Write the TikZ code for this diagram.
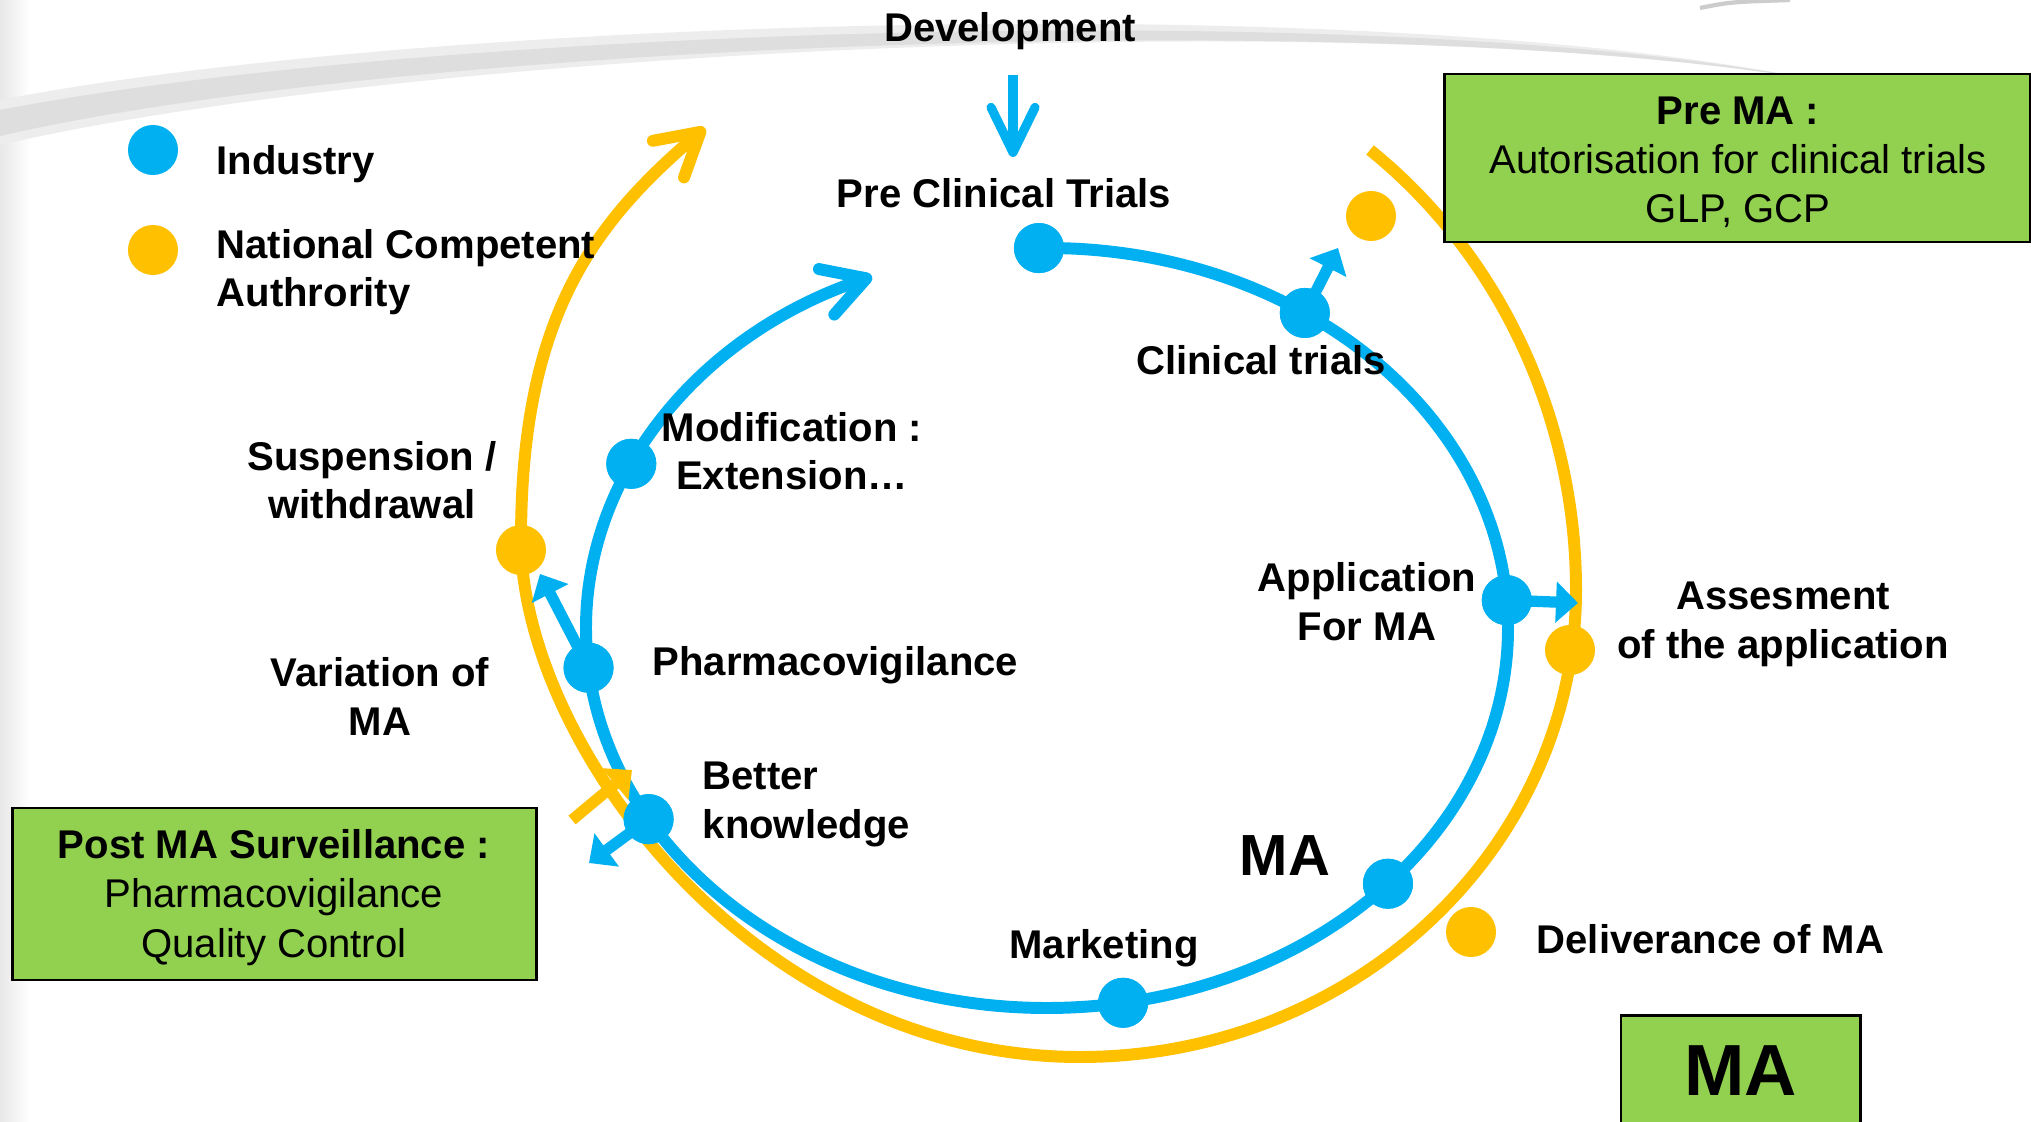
\documentclass[tikz,border=0pt]{standalone}
\usepackage{fontspec}
\setmainfont{Liberation Sans}
\usetikzlibrary{arrows.meta,calc}
\definecolor{cblue}{HTML}{00B0F0}
\definecolor{cyel}{HTML}{FFC000}
\definecolor{cgreen}{HTML}{92D050}
\newcommand\lblfont{\fontsize{11.4pt}{13.9pt}\selectfont\bfseries}
\newcommand\boxfont{\fontsize{11.4pt}{14pt}\selectfont}
\begin{document}
\begin{tikzpicture}[x=0.01cm, y=-0.01cm,
  bline/.style={draw=cblue, line width=3.4pt},
  yline/.style={draw=cyel, line width=3.4pt},
  bdot/.style={circle, fill=cblue, minimum size=0.5cm, inner sep=0pt},
  ydot/.style={circle, fill=cyel, minimum size=0.5cm, inner sep=0pt},
  barb/.style={-{Straight Barb[length=0.42cm, width=0.48cm, round]}},
  blk/.style={line width=3.2pt, -{Triangle[length=0.22cm, width=0.4cm]}},
  lbl/.style={font=\lblfont, inner sep=0pt, anchor=base, align=center},
  gbox/.style={draw=black, line width=0.8pt, fill=cgreen, inner sep=0pt},
  btxt/.style={font=\boxfont, inner sep=0pt, anchor=base, align=center}]
\clip (0,0) rectangle (2031,1122);
\fill[white] (0,0) rectangle (2031,1122);
% background decoration
\shade[left color=black!9, right color=white] (0,0) rectangle (30,1122);
\fill[black!7] (0,100) .. controls (400,22) and (1350,-14) .. (1815,80)
   .. controls (1350,2) and (400,52) .. (0,145) -- cycle;
\fill[black!13] (0,110) .. controls (400,32) and (1350,-6) .. (1805,78)
   .. controls (1350,6) and (400,44) .. (0,136) -- cycle;
\draw[black!20, line width=1.2pt] (1700,8) .. controls (1730,2) .. (1790,0);

% legend dots
\node[bdot] (legb) at (153,150) {};
\node[ydot] (legy) at (153,250) {};

% yellow (authority) path
\coordinate (ya) at (1370,150);
\coordinate (yb) at (1576,590);
\coordinate (yc) at (1080,1057);
\coordinate (yd) at (521,540);
\coordinate (ye) at (705,128);
\draw[yline, barb] (ya) .. controls (1500,255) and (1576,418) .. (yb)
  .. controls (1576,848) and (1354,1057) .. (yc)
  .. controls (750,1057) and (521,740) .. (yd)
  .. controls (521,320) and (591,225) .. (ye);

% blue (industry) cycle
\coordinate (bc) at (1047,628);
\node[bdot] (pc) at ($(bc)+(-91:461 and 380)$) {};
\node[bdot] (ct) at ($(bc)+(-56:461 and 380)$) {};
\node[bdot] (app) at ($(bc)+(-4.2:461 and 380)$) {};
\node[bdot] (ma) at ($(bc)+(42.3:461 and 380)$) {};
\node[bdot] (mkt) at ($(bc)+(80.5:461 and 380)$) {};
\node[bdot] (bk) at ($(bc)+(149.8:461 and 380)$) {};
\node[bdot] (pv) at ($(bc)+(174:461 and 380)$) {};
\node[bdot] (mod) at ($(bc)+(205.6:461 and 380)$) {};
\draw[bline, barb] (pc.center) arc[start angle=-91, end angle=247.7, x radius=461, y radius=380];

% small arrows
\coordinate (ctT) at (1338,248);
\coordinate (appT) at (1578,603);
\coordinate (pvT) at (540,574);
\coordinate (bkT) at (589,863);
\coordinate (yA) at (572,820);
\coordinate (yT) at (632,770);
\draw[blk, draw=cblue, fill=cblue] (ct.center) -- (ctT);
\draw[blk, draw=cblue, fill=cblue] (app.center) -- (appT);
\draw[blk, draw=cblue, fill=cblue] (pv.center) -- (pvT);
\draw[blk, draw=cblue, fill=cblue] (bk.center) -- (bkT);
\draw[blk, draw=cyel, fill=cyel] (yA) -- (yT);

% redraw dots on top
\foreach \n in {pc,ct,app,ma,mkt,bk,pv,mod} \fill[cblue] (\n) circle[radius=25];

% yellow dots
\node[ydot] (susp) at (521,550) {};
\node[ydot] (ass) at (1570,650) {};
\node[ydot] (auth) at (1371,216) {};
\node[ydot] (deliv) at (1471,932) {};

% development arrow
\node[lbl] (dev) at (1010,42) {Development};
\coordinate (devA) at (1013,75);
\coordinate (devB) at (1013,157);
\draw[draw=cblue, line width=2.6pt, -{Straight Barb[length=0.45cm, width=0.44cm, round]}] (devA) -- (devB);

% labels
\node[lbl, anchor=base west, align=left] (ind) at (216,175) {Industry};
\node[lbl, anchor=base west, align=left] (nca) at (216,307) {National Competent\\Authrority};
\node[lbl] (pctl) at (1004,208) {Pre Clinical Trials};
\node[lbl] (ctl) at (1261,375) {Clinical trials};
\node[lbl] (modl) at (792,490) {Modification :\\Extension…};
\node[lbl] (susl) at (372,519) {Suspension /\\withdrawal};
\node[lbl] (appl) at (1367,640) {Application\\For MA};
\node[lbl] (assl) at (1783,658) {Assesment\\of the application};
\node[lbl, anchor=base west] (pvl) at (652,675) {Pharmacovigilance};
\node[lbl] (varl) at (380,735) {Variation of\\MA};
\node[lbl, anchor=base west, align=left] (bkl) at (702,838) {Better\\knowledge};
\node[lbl, font=\fontsize{16.5pt}{20pt}\selectfont\bfseries] (mal) at (1285,875) {MA};
\node[lbl] (mkl) at (1104,958) {Marketing};
\node[lbl, anchor=base west] (dell) at (1536,953) {Deliverance of MA};

% green boxes
\node[gbox, minimum width=5.85cm, minimum height=1.68cm] (prema) at (1737.5,158) {};
\node[btxt] (prematxt) at (1738,223) {\textbf{Pre MA :}\\Autorisation for clinical trials\\GLP, GCP};
\node[gbox, minimum width=5.23cm, minimum height=1.72cm] (postma) at (274.5,894) {};
\node[btxt] (postmatxt) at (274,957) {\textbf{Post MA Surveillance :}\\Pharmacovigilance\\Quality Control};
\node[gbox, anchor=north, minimum width=2.39cm, minimum height=1.1cm,
  font=\fontsize{20.6pt}{24pt}\selectfont\bfseries] (mabox) at (1740.5,1014) {MA};
\end{tikzpicture}
\end{document}
